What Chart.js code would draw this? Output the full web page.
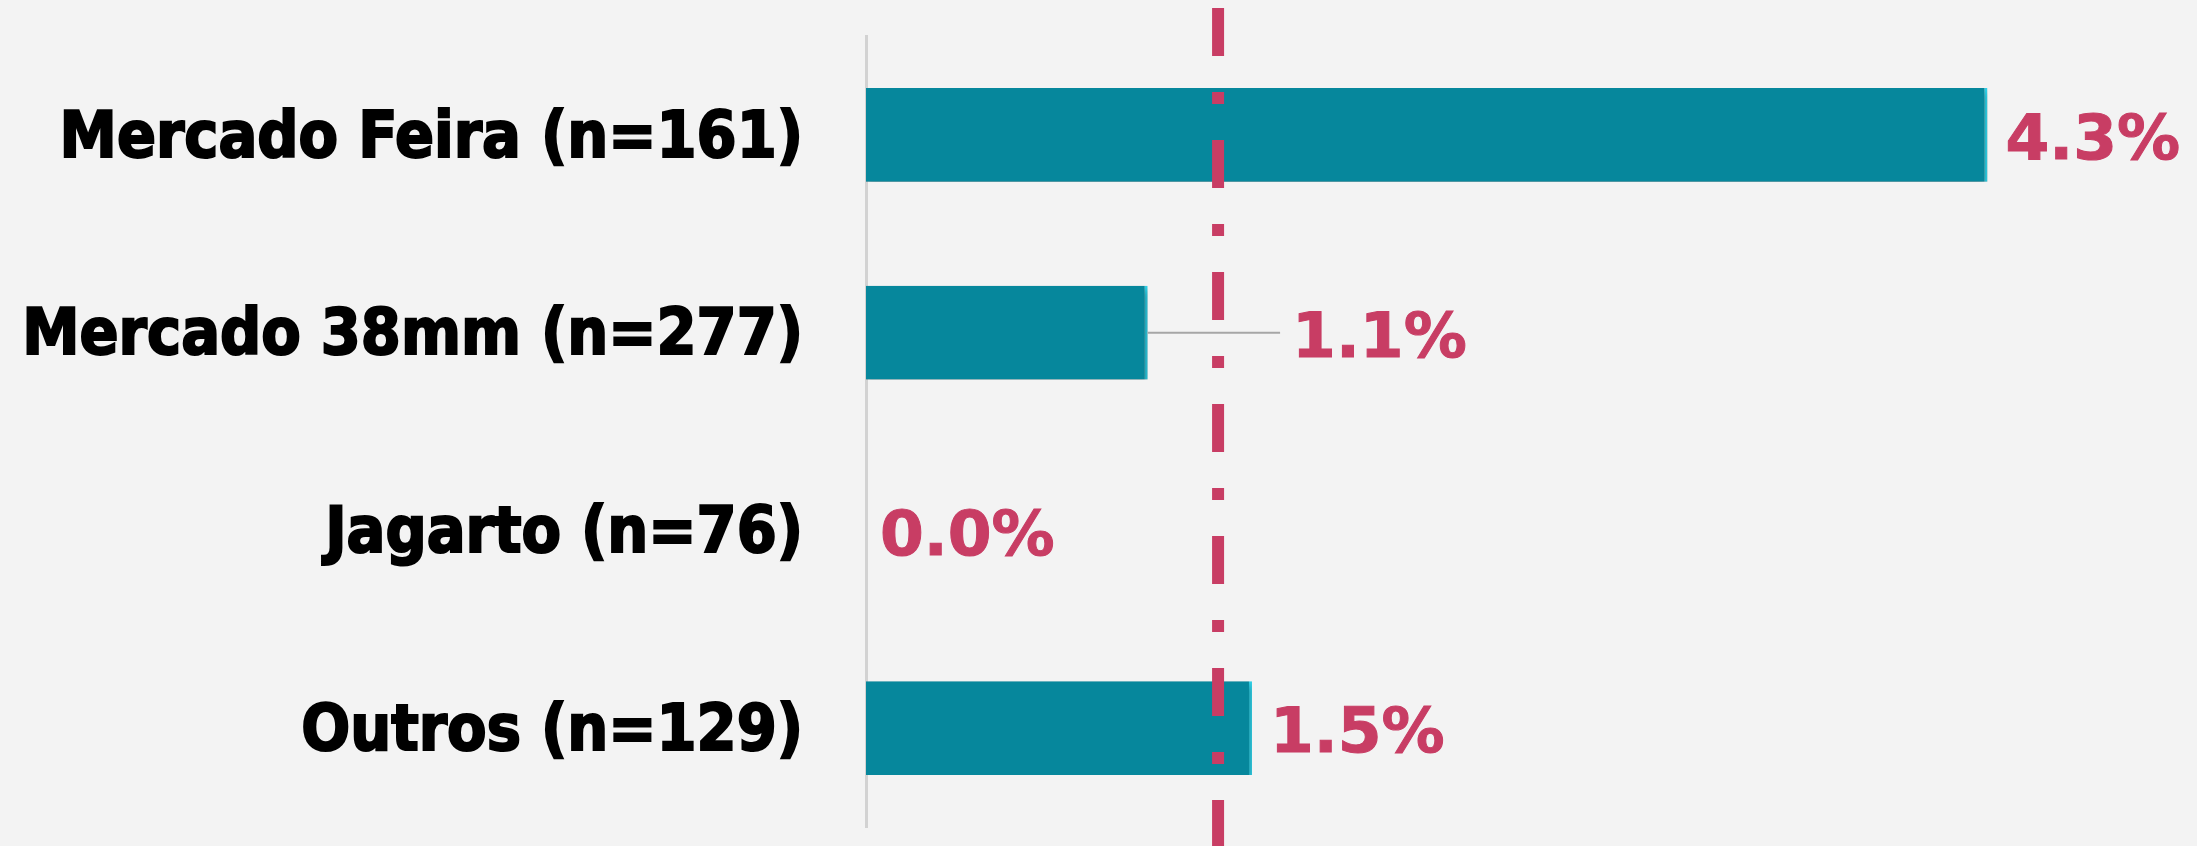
<!DOCTYPE html>
<html>
<head>
<meta charset="utf-8">
<style>
  html, body { margin: 0; padding: 0; background: #f3f3f3; }
  #wrap { width: 2197px; height: 846px; }
</style>
<script src="https://cdn.jsdelivr.net/npm/chart.js@4/dist/chart.umd.min.js"></script>
</head>
<body>
<div id="wrap"><canvas id="c" width="2197" height="846"></canvas></div>
<script>
const categories = ["Mercado Feira (n=161)", "Mercado 38mm (n=277)", "Jagarto (n=76)", "Outros (n=129)"];
const values = [4.3, 1.08, 0.0, 1.48];
const averageValue = 1.35;
const valueLabels = values.map(v => v.toFixed(1) + "%");

const PINK = "#C83D64";
const TEAL = "#06879C";

const bgPlugin = {
  id: "bg",
  beforeDraw(chart) {
    const ctx = chart.ctx;
    ctx.save();
    ctx.fillStyle = "#f3f3f3";
    ctx.fillRect(0, 0, chart.width, chart.height);
    ctx.restore();
  }
};

const shadowPlugin = {
  id: "barShadow",
  beforeDatasetDraw(chart) {
    const ctx = chart.ctx;
    ctx.save();
    ctx.shadowColor = "rgba(0,0,0,0.45)";
    ctx.shadowBlur = 7;
    ctx.shadowOffsetY = 4;
  },
  afterDatasetDraw(chart) {
    chart.ctx.restore();
  }
};

const overlayPlugin = {
  id: "overlay",
  afterDatasetsDraw(chart) {
    const ctx = chart.ctx;
    const xs = chart.scales.x;
    const meta = chart.getDatasetMeta(0);
    const ax = xs.getPixelForValue(averageValue);
    ctx.save();
    ctx.strokeStyle = PINK;
    ctx.lineWidth = 12;
    ctx.lineCap = "butt";
    ctx.setLineDash([48, 36, 12, 36]);
    ctx.lineDashOffset = -8;
    ctx.beginPath();
    ctx.moveTo(ax, 0);
    ctx.lineTo(ax, chart.height);
    ctx.stroke();
    ctx.restore();

    ctx.save();
    ctx.font = "bold 63px 'DejaVu Sans'";
    ctx.fillStyle = PINK;
    ctx.strokeStyle = PINK;
    ctx.lineWidth = 1;
    ctx.textBaseline = "middle";
    ctx.textAlign = "left";
    meta.data.forEach((bar, i) => {
      const y = bar.y + 8;
      let x = bar.x + 18;
      if (i === 1) {
        const lx = xs.getPixelForValue(averageValue) + 62;
        ctx.save();
        ctx.strokeStyle = "#a6a6a6";
        ctx.lineWidth = 2;
        ctx.beginPath();
        ctx.moveTo(bar.x, bar.y);
        ctx.lineTo(lx, bar.y);
        ctx.stroke();
        ctx.restore();
        x = lx + 12;
      } else if (i === 2) {
        x = bar.x + 14;
      }
      ctx.fillText(valueLabels[i], x, y);
      ctx.strokeText(valueLabels[i], x, y);
    });
    ctx.restore();
  }
};

new Chart(document.getElementById("c"), {
  type: "bar",
  data: {
    labels: categories,
    datasets: [{
      data: values,
      backgroundColor: TEAL,
      borderColor: "#2fd3ea",
      borderWidth: { top: 0, right: 3, bottom: 0, left: 0 },
      borderSkipped: false,
      categoryPercentage: 1.0,
      barPercentage: 0.475
    }]
  },
  options: {
    indexAxis: "y",
    responsive: false,
    animation: false,
    events: [],
    layout: { autoPadding: false, padding: { top: 36, bottom: 19, right: 27, left: 0 } },
    plugins: {
      legend: { display: false },
      tooltip: { enabled: false }
    },
    scales: {
      x: {
        display: false,
        min: 0,
        max: 5,
        afterFit(scale) { scale.height = 0; scale.paddingLeft = 0; scale.paddingRight = 0; }
      },
      y: {
        afterFit(scale) { scale.width = 866; scale.paddingTop = 0; scale.paddingBottom = 0; },
        grid: { display: false, drawTicks: false },
        border: { display: true, color: "#d2d2d2", width: 3 },
        ticks: {
          color: "#000000",
          padding: 63,
          labelOffset: 5,
          textStrokeColor: "#000000",
          textStrokeWidth: 2,
          font: { family: "'DejaVu Sans Condensed', 'DejaVu Sans'", weight: "bold", size: 64 }
        }
      }
    }
  },
  plugins: [bgPlugin, shadowPlugin, overlayPlugin]
});
</script>
</body>
</html>
